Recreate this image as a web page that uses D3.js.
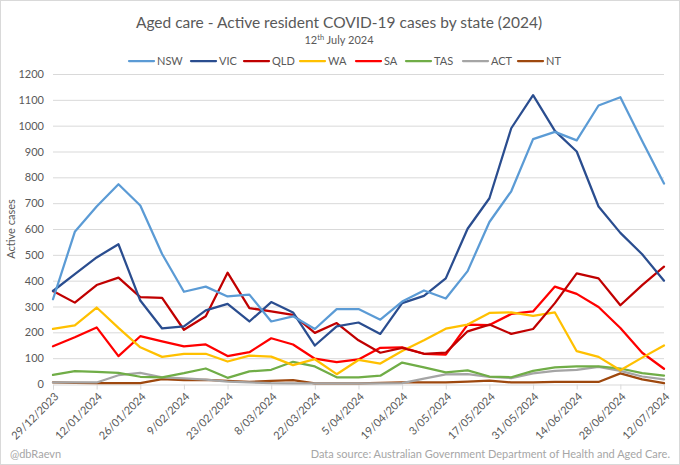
<!DOCTYPE html>
<html><head><meta charset="utf-8">
<script src="https://cdn.jsdelivr.net/npm/d3@7"></script>
<style>
html,body{margin:0;padding:0;background:#fff;}
svg{display:block;font-family:Lato,"Open Sans",sans-serif;}
</style></head><body>
<svg id="c" width="680" height="465"></svg>
<script>
const dates = ["29/12/2023","5/01/2024","12/01/2024","19/01/2024","26/01/2024","2/02/2024","9/02/2024","16/02/2024","23/02/2024","1/03/2024","8/03/2024","15/03/2024","22/03/2024","29/03/2024","5/04/2024","12/04/2024","19/04/2024","26/04/2024","3/05/2024","10/05/2024","17/05/2024","24/05/2024","31/05/2024","7/06/2024","14/06/2024","21/06/2024","28/06/2024","5/07/2024","12/07/2024"];
const tickLabels = ["29/12/2023","12/01/2024","26/01/2024","9/02/2024","23/02/2024","8/03/2024","22/03/2024","5/04/2024","19/04/2024","3/05/2024","17/05/2024","31/05/2024","14/06/2024","28/06/2024","12/07/2024"];
const yTicks = [0,100,200,300,400,500,600,700,800,900,1000,1100,1200];

const NSW = [328,589,687,773,691,503,357,377,339,346,242,262,213,290,290,249,319,362,331,437,627,746,948,976,943,1078,1110,941,776];
const VIC = [360,425,490,541,323,215,223,285,310,242,317,277,149,223,238,194,313,341,409,601,719,990,1118,980,900,687,585,502,400];
const QLD = [360,315,383,412,336,333,210,262,431,294,281,268,198,236,169,121,140,117,121,204,230,194,213,313,428,409,305,383,454];
const WA  = [213,227,296,217,142,105,117,117,87,110,106,73,96,38,93,79,128,169,214,230,275,277,264,277,127,105,53,102,149];
const SA  = [146,181,219,108,185,165,146,153,108,123,177,153,98,85,95,140,142,117,114,230,228,271,281,377,349,298,217,121,59];
const TAS = [35,50,47,43,28,26,42,60,24,49,55,86,68,26,26,32,83,64,45,53,29,26,51,64,68,68,60,42,32];
const ACT = [6,6,6,34,43,26,22,17,9,6,3,2,2,2,2,2,3,21,37,38,28,23,41,51,55,66,51,29,18];
const NT  = [6,4,3,3,3,19,15,16,12,8,12,15,2,2,2,4,6,6,6,9,13,6,6,8,8,8,41,18,3];

const seriesNames = ["NSW","VIC","QLD","WA","SA","TAS","ACT","NT"];
const seriesData = [NSW,VIC,QLD,WA,SA,TAS,ACT,NT];
const colors = ["#5B9BD5","#2A4D8F","#C00000","#FFC000","#FF0000","#70AD47","#A5A5A5","#9E480E"];

const svg = d3.select("#c");
const W = 680, H = 465;
const m = {left:53, right:16, top:74, bottom:80};
const txt = "#595959";
const ff = "Lato,'Open Sans',sans-serif";

svg.append("rect").attr("x",0.5).attr("y",0.5).attr("width",W-1).attr("height",H-1)
  .attr("fill","#fff").attr("stroke","#D9D9D9");

const x = d3.scalePoint().domain(dates).range([m.left, W - m.right]);
const y = d3.scaleLinear().domain([0,1200]).range([H - m.bottom - 1, m.top]);

// gridlines
svg.append("g").selectAll("line").data(yTicks.filter(v=>v>0)).join("line")
  .attr("x1",m.left).attr("x2",W-m.right)
  .attr("y1",d=>y(d)+0.5).attr("y2",d=>y(d)+0.5)
  .attr("stroke","#D9D9D9").attr("stroke-width",1);

// y axis labels
const ya = svg.append("g").attr("transform",`translate(${m.left},0)`)
  .call(d3.axisLeft(y).tickValues(yTicks).tickFormat(d3.format("d")).tickSize(0).tickPadding(9));
ya.select(".domain").remove();
ya.selectAll("text").attr("fill",txt).style("font-size","11px").style("font-family",ff);

// x axis
const xa = svg.append("g").attr("transform",`translate(0,${y(0)+0.5})`)
  .call(d3.axisBottom(x).tickValues(tickLabels).tickSize(5).tickPadding(4));
xa.select(".domain").attr("stroke","#D9D9D9");
xa.selectAll(".tick line").attr("stroke","#D9D9D9");
xa.selectAll("text").attr("fill",txt).style("font-size","11px").style("font-family",ff)
  .attr("text-anchor","end").attr("x",0).attr("y",0).attr("dy","0.35em")
  .attr("transform","translate(3,10) rotate(-45)");

// lines
const line = d3.line().x((d,i)=>x(dates[i])).y(d=>y(d));
const order = [7,6,5,4,3,2,1,0];
svg.append("g").selectAll("path").data(order).join("path")
  .attr("d",k=>line(seriesData[k]))
  .attr("fill","none").attr("stroke",k=>colors[k]).attr("stroke-width",2.25)
  .attr("stroke-linejoin","round").attr("stroke-linecap","round");

// title
svg.append("text").attr("x",339).attr("y",28).attr("text-anchor","middle")
  .attr("fill",txt).style("font-size","15.5px").text("Aged care - Active resident COVID-19 cases by state (2024)");
const st = svg.append("text").attr("x",339).attr("y",44).attr("text-anchor","middle")
  .attr("fill",txt).style("font-size","11px");
st.append("tspan").text("12");
st.append("tspan").attr("dy","-4").style("font-size","7.5px").text("th");
st.append("tspan").attr("dy","4").text(" July 2024");

// legend
const legX = [129,191,244,300,356,406,463,518];
const lg = svg.append("g").selectAll("g").data(seriesNames).join("g")
  .attr("transform",(d,i)=>`translate(${legX[i]},61)`);
lg.append("line").attr("x1",0).attr("x2",25).attr("y1",0).attr("y2",0)
  .attr("stroke",(d,i)=>colors[i]).attr("stroke-width",2.25).attr("stroke-linecap","round");
lg.append("text").attr("x",28).attr("y",0).attr("dy","0.35em").attr("fill",txt)
  .style("font-size","11px").text(d=>d);

// y label
svg.append("text").attr("transform",`translate(15,${(m.top+y(0))/2}) rotate(-90)`)
  .attr("text-anchor","middle").attr("fill",txt).style("font-size","11px").text("Active cases");

// footer
svg.append("text").attr("x",10).attr("y",458).attr("fill","#A6A6A6").style("font-size","11px").text("@dbRaevn");
svg.append("text").attr("x",670).attr("y",458).attr("text-anchor","end").attr("fill","#A6A6A6")
  .style("font-size","11px").text("Data source: Australian Government Department of Health and Aged Care.");
</script>
</body></html>
